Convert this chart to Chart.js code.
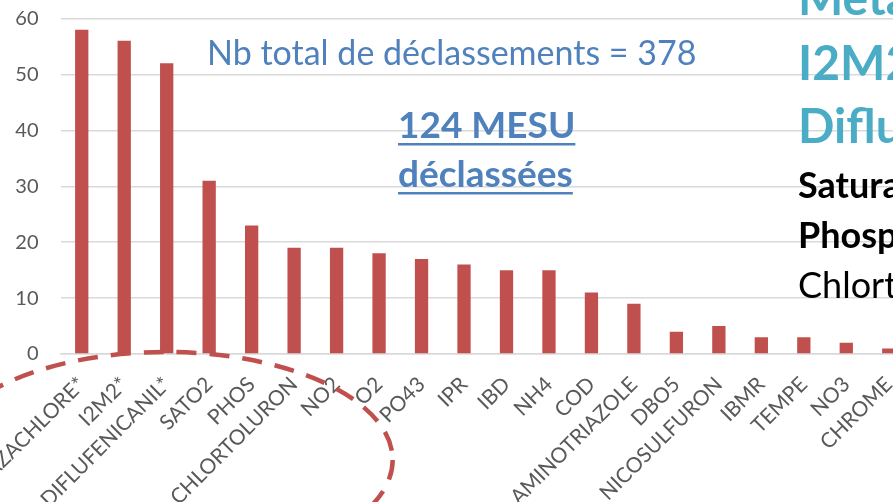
<!DOCTYPE html>
<html>
<head>
<meta charset="utf-8">
<script src="https://cdn.jsdelivr.net/npm/chart.js@4"></script>
<style>
html,body{margin:0;padding:0;background:#fff;overflow:hidden;width:893px;height:502px;}
#wrap{position:relative;width:910px;height:502px;}
</style>
</head>
<body>
<div id="wrap"><canvas id="c" width="910" height="502"></canvas></div>
<script>
const categories = ["METAZACHLORE*","I2M2*","DIFLUFENICANIL*","SATO2","PHOS","CHLORTOLURON","NO2","O2","PO43","IPR","IBD","NH4","COD","AMINOTRIAZOLE","DBO5","NICOSULFURON","IBMR","TEMPE","NO3","CHROME"];
const declassements = [58,56,52,31,23,19,19,18,17,16,15,15,11,9,4,5,3,3,2,1];
const yTicks = [0,10,20,30,40,50,60];
const noteTotal = "Nb total de déclassements = 378";
const noteMesu = ["124 MESU","déclassées"];
const sideTeal = ["Métazachlore","I2M2","Diflufenicanil"];
const sideBold = ["Saturation O2","Phosphore"];
const sideNormal = ["Chlortoluron"];

const FONT = "Lato, 'Open Sans', sans-serif";

const overlay = {
  id:'overlay',
  afterDraw(chart){
    const ctx = chart.ctx;
    const x = chart.scales.x, y = chart.scales.y;
    ctx.save();
    ctx.strokeStyle = '#C0504D';
    ctx.lineWidth = 4.5;
    ctx.setLineDash([20,13]);
    ctx.beginPath();
    ctx.ellipse(x.getPixelForValue(2)-1, y.getPixelForValue(0)+106, 227, 108, 0, 0, Math.PI*2);
    ctx.stroke();
    ctx.setLineDash([]);
    ctx.fillStyle = '#4F81BD';
    ctx.textBaseline = 'alphabetic';
    ctx.textAlign = 'left';
    ctx.font = "34px " + FONT;
    ctx.fillText(noteTotal, 207, 65);
    ctx.font = "bold 37px " + FONT;
    const base = [138, 187];
    noteMesu.forEach((t,i)=>{
      ctx.fillText(t, 398, base[i]);
      const w = ctx.measureText(t).width;
      ctx.fillRect(398, base[i]+5, w, 2.5);
    });
    ctx.fillStyle = '#4BACC6';
    ctx.font = "bold 48px " + FONT;
    [15,80,143].forEach((b,i)=>ctx.fillText(sideTeal[i], 798, b));
    ctx.fillStyle = '#000';
    ctx.font = "bold 36px " + FONT;
    [198,248].forEach((b,i)=>ctx.fillText(sideBold[i], 798, b));
    ctx.font = "36px " + FONT;
    ctx.fillText(sideNormal[0], 798, 298);
    ctx.restore();
  }
};

new Chart(document.getElementById('c'), {
  type:'bar',
  data:{
    labels: categories,
    datasets:[{
      data: declassements,
      backgroundColor:'#C0504D',
      borderWidth:0,
      barPercentage:0.313,
      categoryPercentage:1
    }]
  },
  options:{
    responsive:false,
    animation:false,
    devicePixelRatio:1,
    layout:{padding:{left:0,right:0,top:18.5,bottom:0}},
    plugins:{legend:{display:false},tooltip:{enabled:false}},
    scales:{
      x:{
        grid:{display:false,drawTicks:false},
        border:{display:true,color:'#D9D9D9',width:1.5},
        ticks:{autoSkip:false,minRotation:45,maxRotation:45,color:'#595959',font:{family:FONT,size:21},padding:18},
        afterFit(s){ s.height = 148; s.paddingLeft = 0; s.paddingRight = 0; }
      },
      y:{
        min:0,max:60,
        afterBuildTicks(s){ s.ticks = yTicks.map(v=>({value:v})); },
        grid:{color:'#D9D9D9',lineWidth:1.5,drawTicks:false},
        border:{display:false},
        ticks:{color:'#595959',font:{family:FONT,size:20},padding:22},
        afterFit(s){ s.width = 60.5; s.paddingTop = 0; s.paddingBottom = 0; }
      }
    }
  },
  plugins:[overlay]
});
</script>
</body>
</html>
